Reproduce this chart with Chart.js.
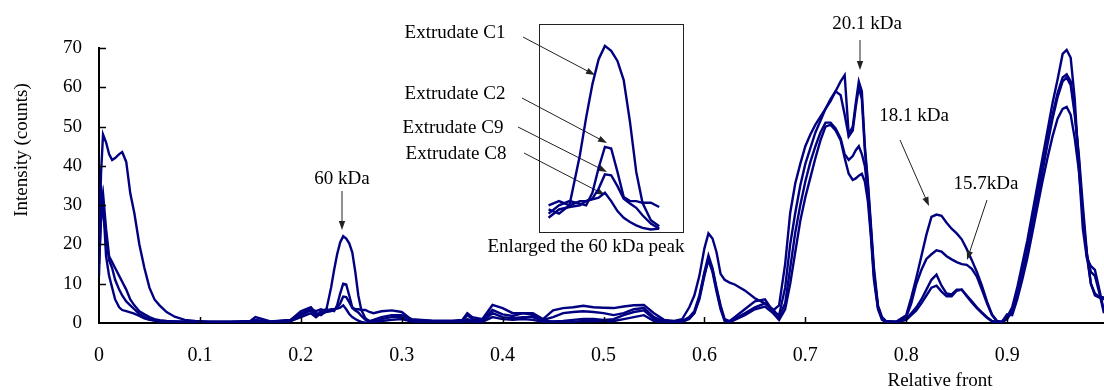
<!DOCTYPE html>
<html>
<head>
<meta charset="utf-8">
<script src="https://cdn.jsdelivr.net/npm/chart.js@4.4.1/dist/chart.umd.min.js"></script>
<style>
  html, body { margin: 0; padding: 0; background: #fff; }
  #wrap { position: relative; width: 1104px; height: 390px; overflow: hidden; }
  #main { position: absolute; left: 0; top: 0; }
  #insetBox { position: absolute; left: 539px; top: 24px; width: 143px; height: 207px; border: 1px solid #222; }
  #inset { position: absolute; left: 0; top: 0; }
</style>
</head>
<body>
<div id="wrap">
  <canvas id="main" width="1104" height="390"></canvas>
  <div id="insetBox"><canvas id="inset" width="143" height="207"></canvas></div>
</div>
<script>
'use strict';

// relative front (shared x grid for all four traces)
var relFront = [
  0, 0.002, 0.004, 0.007, 0.01, 0.013, 0.016, 0.02, 0.023, 0.027, 0.031, 0.035, 0.04, 0.045, 0.05, 0.055, 0.06, 0.067, 0.075, 0.085, 0.095, 0.11,
  0.13, 0.15, 0.155, 0.17, 0.19, 0.2, 0.21,
  0.215, 0.22, 0.225, 0.23, 0.233, 0.236, 0.239, 0.242, 0.245, 0.248, 0.251, 0.254, 0.257, 0.26, 0.264, 0.268, 0.272, 0.28, 0.29, 0.3,
  0.31, 0.33, 0.35, 0.36, 0.365, 0.37, 0.38, 0.39, 0.4, 0.41, 0.42, 0.43, 0.44, 0.45, 0.46, 0.47, 0.48, 0.49, 0.5, 0.51, 0.52, 0.53, 0.54, 0.55, 0.56, 0.57,
  0.578, 0.585, 0.59, 0.595, 0.6, 0.604, 0.608, 0.612, 0.616, 0.62, 0.625, 0.63, 0.64, 0.65, 0.66, 0.668, 0.674, 0.68,
  0.685, 0.69, 0.695, 0.7, 0.705, 0.71, 0.715, 0.72, 0.725, 0.73, 0.735, 0.739, 0.743, 0.747, 0.75, 0.753, 0.756, 0.759, 0.762, 0.765, 0.768, 0.772, 0.776, 0.78,
  0.79, 0.8, 0.805, 0.81, 0.815, 0.82, 0.825, 0.83, 0.835, 0.84, 0.845, 0.85, 0.855, 0.86, 0.865, 0.87, 0.875, 0.88, 0.885, 0.89, 0.895, 0.9,
  0.905, 0.91, 0.915, 0.92, 0.925, 0.93, 0.935, 0.94, 0.945, 0.95, 0.955, 0.959, 0.963, 0.967, 0.971, 0.975, 0.979, 0.983, 0.987, 0.991, 0.996
];

var extrudateC1 = [
  18, 38, 48, 46, 43, 41.5, 42, 43, 43.5, 41, 33, 28, 20, 14, 9, 6, 4.5, 2.8, 1.6, 0.8, 0.5, 0.3,
  0.3, 0.5, 1.5, 0.4, 0.8, 2.5, 3.5,
  3, 3.5, 3, 9, 13.5, 17.5, 20.5, 22.1, 21.5, 20.3, 18, 13, 7, 3.3, 1.2, 0.5, 0.8, 1.5, 2, 2,
  1, 0.6, 0.6, 0.8, 2.5, 1.5, 1, 4.6, 3.8, 2.5, 2.5, 2.5, 1, 3.2, 3.8, 4, 4.4, 4, 3.9, 3.8, 4.2, 4.5, 4.6, 2.5, 0.8, 0.5,
  1, 4, 7, 12, 19, 22.8, 21.5, 18, 12.5, 11, 10.3, 9.8, 8.3, 6.3, 5, 3.2, 4.5, 15,
  28, 35.5, 40.5, 45, 48, 50.5, 52.5, 54.5, 57, 59, 61.5, 63.1, 48, 50, 56, 61.5, 59, 45, 36, 25, 14, 4.5, 1.5, 0.5,
  0.3, 2, 6.5, 11.5, 17, 22.5, 27, 27.6, 27.3, 25.5, 24, 22.8, 21.3, 18.8, 16, 13, 9.5, 5.5, 2.2, 0.5, 0.2, 1.5,
  4, 9, 15, 21, 28, 35, 42, 49, 56, 62, 68.5, 69.5, 67.5, 57, 40, 24, 16.5, 14.5, 13.5, 9, 3
];

var extrudateC2 = [
  12, 30, 33, 24, 17, 15.5, 14, 12, 10.5, 8.5, 6, 4.5, 3, 2.2, 1.5, 1, 0.7, 0.5, 0.4, 0.3, 0.3, 0.3,
  0.3, 0.3, 0.8, 0.3, 0.5, 2, 3.2,
  2, 3, 3.5, 3.2, 3, 4.5, 7.5, 10, 9.8, 7, 4, 3.5, 3.5, 3.3, 3.3, 2.8, 2.5, 3, 3.2, 2.8,
  0.8, 0.5, 0.4, 0.5, 2, 1, 0.8, 3.3, 2.2, 1.8, 2.5, 2, 0.8, 1.5, 2.5, 2.8, 3, 2.8, 2.5, 2, 2.5, 3.5, 3.8, 1.5, 0.5, 0.3,
  0.5, 1.5, 3, 7, 13, 17.2, 14, 9, 4.5, 1, 0.5, 1.5, 3.5, 5.5, 6, 3, 2, 9,
  20, 28, 35, 40.5, 44.5, 48.5, 51.5, 54.5, 56.5, 59, 58, 53, 47.5, 49, 55, 60, 57, 44, 35, 24, 13, 4, 1.2, 0.4,
  0.3, 1.5, 5, 10, 13.5, 16.3, 17.5, 18.5, 18.2, 17, 16.2, 15.5, 15, 14.8, 13.8, 11.8, 8.5, 5, 2, 0.4, 0.2, 1,
  3, 8, 13, 19, 26, 33, 40, 47, 53, 58.5, 62.5, 63.3, 61.5, 54, 42, 27, 17.5, 13, 12, 8, 2.5
];

var extrudateC9 = [
  20, 35, 28, 22, 16, 14, 11, 8.5, 7, 5.5, 4.5, 3.5, 2.3, 1.5, 1, 0.6, 0.4, 0.4, 0.3, 0.3, 0.3, 0.2,
  0.2, 0.3, 0.5, 0.3, 0.8, 3, 4,
  2.5, 2, 3, 3.5, 3.5, 3.8, 5, 6.7, 6.6, 5.3, 3.8, 3.2, 2.7, 1.8, 0.8, 0.2, 0.3, 1, 1.5, 1.5,
  0.5, 0.3, 0.3, 0.3, 1, 0.5, 0.5, 2.5, 1.5, 1.2, 1.5, 1.5, 0.5, 0.4, 0.5, 0.8, 1, 1, 0.8, 1, 2, 2.8, 3.2, 1, 0.3, 0.2,
  0.5, 1.2, 2.5, 6, 12, 16.3, 13.5, 8.5, 4, 0.8, 0.3, 1, 2.5, 4, 5, 3.5, 1.5, 5,
  14, 23, 30, 36, 41, 45, 48.5, 51, 51, 49.5, 47, 43, 41.5, 42.5, 44, 45, 43, 40, 33, 23, 12, 4, 1, 0.3,
  0.3, 1, 2.5, 4, 6, 8.5, 11, 12.3, 9.5, 7.5, 7.3, 8.5, 8.5, 7, 5.5, 4, 2.7, 1.5, 0.5, 0.2, 0.3, 1.8,
  2.5, 7, 12, 18, 24.5, 31.5, 38.5, 45.5, 52, 57.5, 61.5, 62.5, 60.5, 53, 43, 30, 18, 10, 7, 6.5, 6
];

var extrudateC8 = [
  15, 26, 31, 17, 12, 9, 6, 4, 3.3, 3, 2.7, 2.4, 1.8, 1.2, 0.8, 0.6, 0.4, 0.3, 0.3, 0.2, 0.2, 0.2,
  0.2, 0.2, 0.4, 0.2, 0.5, 1.5, 2.5,
  1.5, 2.5, 2.8, 3, 3.5, 3.7, 3.9, 4.5, 3.5, 2.3, 1.5, 1, 0.6, 0.3, 0.1, 0.2, 0.3, 0.5, 0.8, 1,
  0.4, 0.3, 0.2, 0.2, 0.5, 0.3, 0.3, 1.5, 1, 0.8, 1, 0.8, 0.3, 0.3, 0.3, 0.3, 0.5, 0.5, 0.5, 0.5, 1, 1.5, 2, 0.5, 0.2, 0.2,
  0.3, 1, 2.5, 6.5, 12.5, 16, 13, 8, 3.5, 0.5, 0.2, 0.8, 2, 3.5, 4.2, 2.5, 0.8, 3.5,
  10, 18, 26, 32, 37, 42, 46.5, 50, 50.5, 49, 46.5, 42, 38, 36.4, 36.8, 37.5, 38, 36, 31, 22, 11, 3.5, 0.8, 0.3,
  0.2, 0.8, 2, 3.2, 5, 7, 9, 9.5, 8, 6.8, 6.8, 8.2, 8.5, 6.8, 5.2, 3.8, 2.5, 1.3, 0.4, 0.2, 0.4, 2.2,
  2, 6, 11, 16.5, 23, 29.5, 36, 42, 47.5, 52, 54.5, 55, 53, 47, 39, 28, 17, 10, 7.5, 6.7, 6.5
];

var seriesNames = ['Extrudate C1', 'Extrudate C2', 'Extrudate C9', 'Extrudate C8'];
var seriesValues = [extrudateC1, extrudateC2, extrudateC9, extrudateC8];

var yTicks = [0, 10, 20, 30, 40, 50, 60, 70];
var xTicks = [0, 0.1, 0.2, 0.3, 0.4, 0.5, 0.6, 0.7, 0.8, 0.9];

var LINE = '#000080';
var SERIF = "'Liberation Serif', 'Times New Roman', serif";

function buildDatasets(xMin, xMax) {
  return seriesValues.map(function (vals, i) {
    var pts = [];
    relFront.forEach(function (x, j) {
      if (x >= xMin && x <= xMax) pts.push({ x: x, y: vals[j] });
    });
    return {
      label: seriesNames[i],
      data: pts,
      borderColor: LINE,
      borderWidth: 2.4,
      pointRadius: 0,
      fill: false,
      tension: 0
    };
  });
}

function arrow(ctx, x1, y1, x2, y2) {
  var a = Math.atan2(y2 - y1, x2 - x1);
  var len = 9, w = 3.2;
  ctx.beginPath();
  ctx.moveTo(x1, y1);
  ctx.lineTo(x2 - Math.cos(a) * len * 0.7, y2 - Math.sin(a) * len * 0.7);
  ctx.stroke();
  ctx.beginPath();
  ctx.moveTo(x2, y2);
  ctx.lineTo(x2 - len * Math.cos(a) + w * Math.sin(a), y2 - len * Math.sin(a) - w * Math.cos(a));
  ctx.lineTo(x2 - len * Math.cos(a) - w * Math.sin(a), y2 - len * Math.sin(a) + w * Math.cos(a));
  ctx.closePath();
  ctx.fill();
}

// text labels and arrows (page pixels)
var notes = [
  { text: '60 kDa', x: 342, y: 184, from: [342, 191], to: [342, 230] },
  { text: '20.1 kDa', x: 867, y: 29, from: [860, 40], to: [860, 70] },
  { text: '18.1 kDa', x: 914, y: 121, from: [900, 140], to: [929, 206] },
  { text: '15.7kDa', x: 986, y: 189, from: [987, 200], to: [967, 260] },
  { text: 'Extrudate C1', x: 455, y: 38, from: [523, 37], to: [595, 75] },
  { text: 'Extrudate C2', x: 455, y: 99, from: [522, 98], to: [607, 143] },
  { text: 'Extrudate C9', x: 453, y: 133, from: [518, 127], to: [607, 172] },
  { text: 'Extrudate C8', x: 456, y: 159, from: [524, 153], to: [605, 195] },
  { text: 'Enlarged the 60 kDa peak', x: 586, y: 252 },
  { text: 'Relative front', x: 940, y: 386 }
];

var decorations = {
  id: 'decorations',
  afterDraw: function (chart) {
    var ctx = chart.ctx;
    var xs = chart.scales.x, ys = chart.scales.y, area = chart.chartArea;
    ctx.save();

    // inward tick marks
    ctx.strokeStyle = '#000';
    ctx.lineWidth = 1.5;
    yTicks.forEach(function (v) {
      if (v === 0) return;
      var py = Math.round(ys.getPixelForValue(v)) + 0.5;
      ctx.beginPath();
      ctx.moveTo(area.left, py);
      ctx.lineTo(area.left + 7, py);
      ctx.stroke();
    });
    xTicks.forEach(function (v) {
      if (v === 0) return;
      var px = Math.round(xs.getPixelForValue(v)) + 0.5;
      ctx.beginPath();
      ctx.moveTo(px, area.bottom);
      ctx.lineTo(px, area.bottom - 6);
      ctx.stroke();
    });

    // annotations
    ctx.fillStyle = '#000';
    ctx.font = '19px ' + SERIF;
    ctx.textAlign = 'center';
    ctx.textBaseline = 'alphabetic';
    notes.forEach(function (n) {
      ctx.fillText(n.text, n.x, n.y);
    });
    ctx.strokeStyle = '#222';
    ctx.fillStyle = '#222';
    ctx.lineWidth = 1;
    notes.forEach(function (n) {
      if (n.from) arrow(ctx, n.from[0], n.from[1], n.to[0], n.to[1]);
    });

    // y axis title
    ctx.fillStyle = '#000';
    ctx.translate(22, 150);
    ctx.rotate(-Math.PI / 2);
    ctx.textBaseline = 'middle';
    ctx.fillText('Intensity (counts)', 0, 0);
    ctx.restore();
  }
};

new Chart(document.getElementById('main'), {
  type: 'line',
  data: { datasets: buildDatasets(0, 1) },
  options: {
    responsive: false,
    animation: false,
    events: [],
    layout: { padding: { top: 48, right: 0, bottom: 0, left: 0 } },
    plugins: { legend: { display: false }, tooltip: { enabled: false } },
    scales: {
      x: {
        type: 'linear',
        min: 0,
        max: 0.996,
        afterFit: function (s) { s.height = 67; },
        afterBuildTicks: function (s) { s.ticks = xTicks.map(function (v) { return { value: v }; }); },
        ticks: {
          includeBounds: false,
          padding: 21,
          color: '#000',
          font: { family: SERIF, size: 20 },
          maxRotation: 0,
          autoSkip: false,
          callback: function (v) { return String(Math.round(v * 10) / 10); }
        },
        grid: { display: false, drawTicks: false },
        border: { display: true, color: '#000', width: 2 }
      },
      y: {
        min: 0,
        max: 70,
        afterFit: function (s) { s.width = 99; },
        afterBuildTicks: function (s) { s.ticks = yTicks.map(function (v) { return { value: v }; }); },
        ticks: {
          padding: 17,
          color: '#000',
          font: { family: SERIF, size: 19 }
        },
        grid: { display: false, drawTicks: false },
        border: { display: true, color: '#000', width: 2 }
      }
    }
  },
  plugins: [decorations]
});

// inset: enlarged view of the 60 kDa peak
new Chart(document.getElementById('inset'), {
  type: 'line',
  data: { datasets: buildDatasets(0.215, 0.271) },
  options: {
    responsive: false,
    animation: false,
    events: [],
    layout: { padding: 0 },
    plugins: { legend: { display: false }, tooltip: { enabled: false } },
    scales: {
      x: { type: 'linear', display: false, min: 0.2109, max: 0.2794 },
      y: { display: false, min: -0.2, max: 24.6 }
    }
  }
});
</script>
</body>
</html>
